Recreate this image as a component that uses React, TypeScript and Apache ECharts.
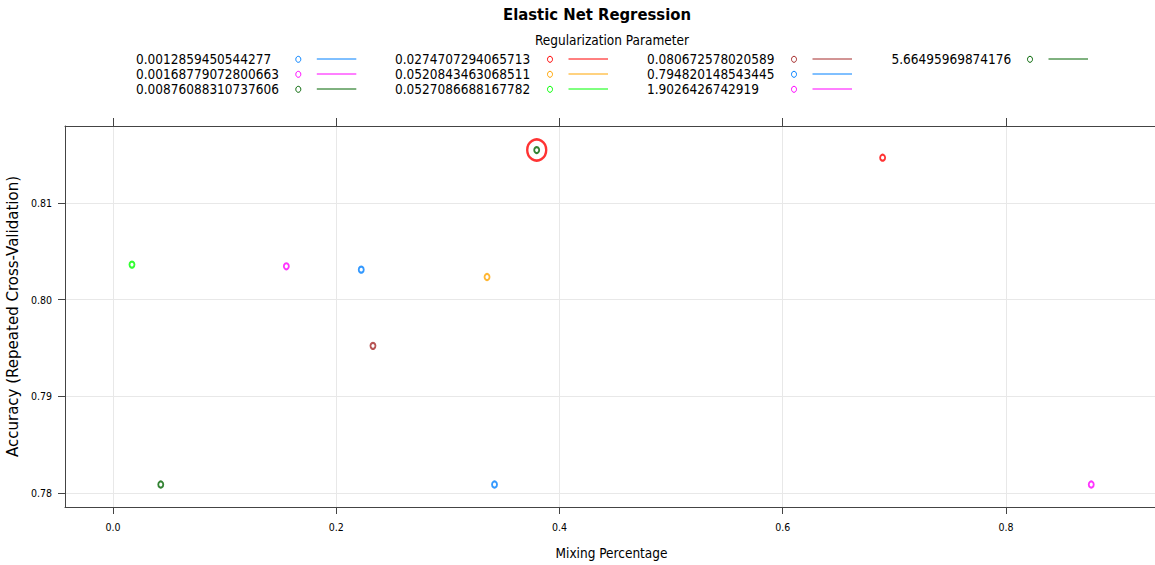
import React, { useEffect, useRef } from "react";
import * as echarts from "echarts";

// ---- data ----
const lambdaLabels = [
  "0.0012859450544277",
  "0.00168779072800663",
  "0.00876088310737606",
  "0.0274707294065713",
  "0.0520843463068511",
  "0.0527086688167782",
  "0.080672578020589",
  "0.794820148543445",
  "1.9026426742919",
  "5.66495969874176",
];
const symbolColors = [
  "#0080ff", "#ff00ff", "#006400", "#ff0000", "#ffa500",
  "#00ff00", "#a52a2a", "#0080ff", "#ff00ff", "#006400",
];
const mixingPct = [0.2224, 0.1553, 0.3796, 0.6895, 0.3351, 0.017, 0.2329, 0.3418, 0.8764, 0.0428];
const accuracy = [0.8031, 0.80345, 0.81548, 0.81469, 0.80234, 0.80362, 0.79521, 0.78086, 0.78086, 0.78086];
const xTicks = [0, 0.2, 0.4, 0.6, 0.8];
const yTicks = [0.78, 0.79, 0.8, 0.81];

const COND = "'DejaVu Sans Condensed', 'DejaVu Sans', sans-serif";

export default function App() {
  const ref = useRef<HTMLDivElement>(null);
  useEffect(() => {
    document.body.style.margin = "0";
    const chart = echarts.init(ref.current!, null, { renderer: "svg" });

    const best = accuracy.indexOf(Math.max(...accuracy));

    // legend layout (column-major, 3 rows)
    const colTextX = [136, 395, 647, 891.5];
    const colCircleX = [298.3, 550, 794, 1030];
    const rowY = [59.3, 74.3, 89.3];
    const legendEls: any[] = [];
    lambdaLabels.forEach((lab, i) => {
      const c = Math.floor(i / 3);
      const r = i % 3;
      const y = rowY[r];
      legendEls.push({
        type: "text",
        x: colTextX[c],
        y,
        style: { text: lab, fontSize: 13.5, fontFamily: COND, fill: "#000", align: "left", verticalAlign: "middle" },
      });
      legendEls.push({
        type: "ellipse",
        shape: { cx: colCircleX[c], cy: y, rx: 2.5, ry: 3 },
        style: { fill: "none", stroke: symbolColors[i], lineWidth: 1 },
      });
      const lx = colCircleX[c] + 18.5;
      legendEls.push({
        type: "line",
        shape: { x1: lx, y1: Math.round(y), x2: lx + 39.5, y2: Math.round(y) },
        style: { stroke: symbolColors[i], lineWidth: 1 },
      });
    });
    legendEls.push({
      type: "text",
      x: 612,
      y: 40,
      style: { text: "Regularization Parameter", fontSize: 13.5, fontFamily: COND, fill: "#000", align: "center", verticalAlign: "middle" },
    });

    const axisLineStyle = { color: "#444", width: 1 };

    const series: any[] = lambdaLabels.map((lab, i) => ({
      name: lab,
      type: "scatter",
      symbol: "emptyCircle",
      symbolSize: [5, 6],
      itemStyle: { color: symbolColors[i], borderColor: symbolColors[i], borderWidth: 0.8 },
      data: [[mixingPct[i], accuracy[i]]],
      z: 3,
    }));
    series.push({
      name: "best",
      type: "scatter",
      symbol: "circle",
      symbolSize: [19, 21],
      itemStyle: { color: "transparent", borderColor: "#ff0000", borderWidth: 2.5 },
      data: [[mixingPct[best], accuracy[best]]],
      z: 4,
      silent: true,
    });

    chart.setOption({
      animation: false,
      backgroundColor: "#fff",
      title: {
        text: "Elastic Net Regression",
        left: 592,
        top: 1,
        textAlign: "center",
        textStyle: { fontFamily: COND, fontWeight: "bold", fontSize: 16.5, color: "#000" },
      },
      grid: { left: 65, top: 126, right: -3, bottom: 58, outerBoundsMode: "none", containLabel: false },
      xAxis: [
        {
          type: "value",
          position: "bottom",
          min: -0.043,
          max: 0.9362,
          name: "Mixing Percentage",
          nameLocation: "middle",
          nameGap: 39,
          nameTextStyle: { fontFamily: COND, fontSize: 13.5, color: "#000" },
          axisLine: { show: true, onZero: false, lineStyle: axisLineStyle },
          axisTick: { show: true, inside: false, length: 7, customValues: xTicks, lineStyle: axisLineStyle },
          axisLabel: {
            show: true,
            customValues: xTicks,
            margin: 14,
            fontFamily: COND,
            fontSize: 10.5,
            color: "#000",
            formatter: (v: number) => v.toFixed(1),
          },
          splitLine: { show: true, lineStyle: { color: "#e8e8e8", width: 1 } },
        },
        {
          type: "value",
          position: "top",
          min: -0.043,
          max: 0.9362,
          axisLine: { show: true, onZero: false, lineStyle: axisLineStyle },
          axisTick: { show: true, inside: false, length: 8, customValues: xTicks, lineStyle: axisLineStyle },
          axisLabel: { show: false },
          splitLine: { show: false },
        },
      ],
      yAxis: {
        type: "value",
        min: 0.77853,
        max: 0.81797,
        name: "Accuracy (Repeated Cross-Validation)",
        nameLocation: "middle",
        nameGap: 43,
        nameTextStyle: { fontFamily: "'DejaVu Sans', sans-serif", fontSize: 15, color: "#000" },
        axisLine: { show: true, onZero: false, lineStyle: axisLineStyle },
        axisTick: { show: true, inside: false, length: 7, customValues: yTicks, lineStyle: axisLineStyle },
        axisLabel: {
          show: true,
          customValues: yTicks,
          margin: 13,
          fontFamily: COND,
          fontSize: 10.5,
          color: "#000",
          formatter: (v: number) => v.toFixed(2),
        },
        splitLine: { show: true, lineStyle: { color: "#e8e8e8", width: 1 } },
      },
      graphic: legendEls,
      series,
    });
    return () => chart.dispose();
  }, []);
  return <div ref={ref} style={{ width: 1155, height: 565 }} />;
}
